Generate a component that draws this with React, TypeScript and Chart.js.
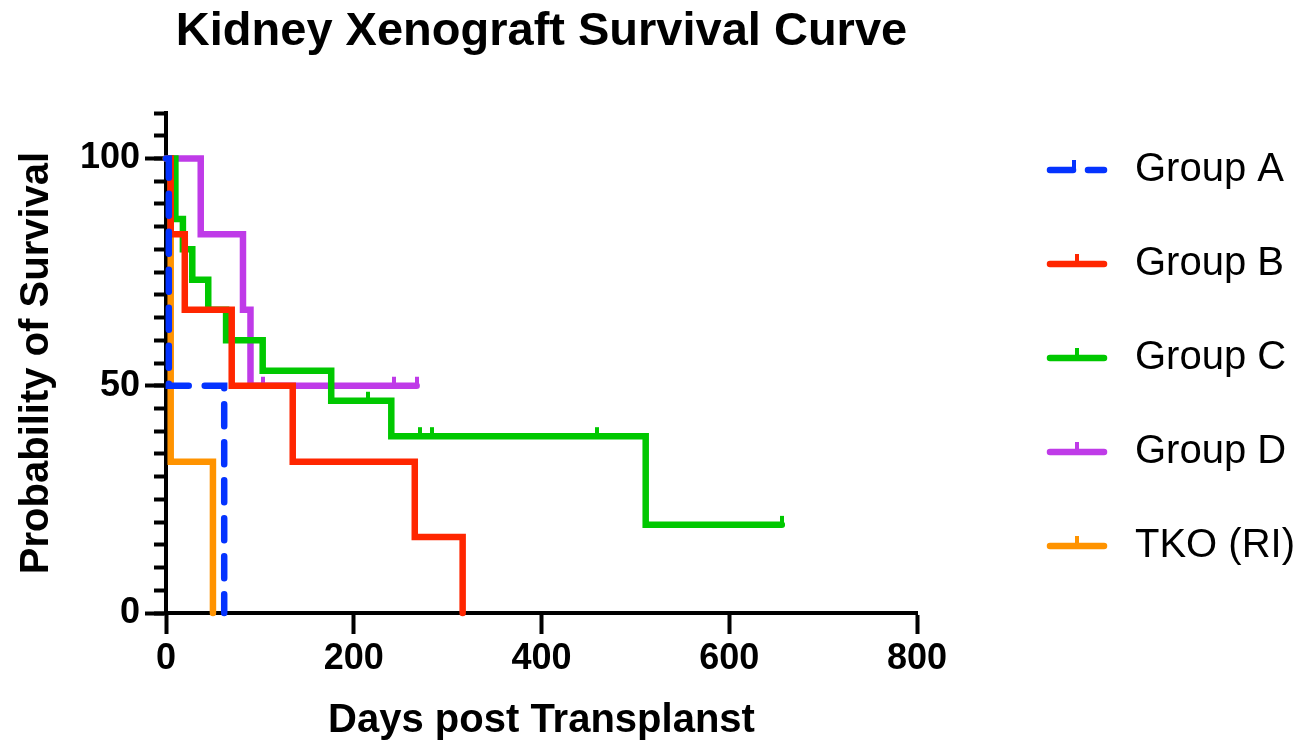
import React, { useEffect, useRef } from 'react';
import { Chart, registerables } from 'chart.js';

Chart.register(...registerables);

const FONT = "'Liberation Sans', Arial, Helvetica, sans-serif";

const groupNames = ['Group A', 'Group B', 'Group C', 'Group D', 'TKO (RI)'];
const groupColors = ['#0433FF', '#FF2600', '#00C800', '#BF3BE8', '#FF9300'];

// Kaplan-Meier step points: day, survival %, censored flag (1 = censor tick)
const groupADays = [0, 3, 62];
const groupASurvival = [100, 50, 0];
const groupACensored = [0, 0, 0];

const groupBDays = [0, 5, 20, 70, 135, 265, 316];
const groupBSurvival = [100, 83.3, 66.7, 50, 33.3, 16.7, 0];
const groupBCensored = [0, 0, 0, 0, 0, 0, 0];

const groupCDays = [0, 10, 18, 28, 45, 64, 103, 176, 215, 240, 271, 283, 459, 511, 656];
const groupCSurvival = [100, 86.7, 80, 73.3, 66.7, 60, 53.3, 46.7, 46.7, 38.9, 38.9, 38.9, 38.9, 19.4, 19.4];
const groupCCensored = [0, 0, 0, 0, 0, 0, 0, 0, 1, 0, 1, 1, 1, 0, 1];

const groupDDays = [0, 37, 82, 90, 103, 243, 267];
const groupDSurvival = [100, 83.3, 66.7, 50, 50, 50, 50];
const groupDCensored = [0, 0, 0, 0, 1, 1, 1];

const tkoDays = [0, 5, 50];
const tkoSurvival = [100, 33.3, 0];
const tkoCensored = [0, 0, 0];

const allDays = [groupADays, groupBDays, groupCDays, groupDDays, tkoDays];
const allSurvival = [groupASurvival, groupBSurvival, groupCSurvival, groupDSurvival, tkoSurvival];
const allCensored = [groupACensored, groupBCensored, groupCCensored, groupDCensored, tkoCensored];

const xTicks = [0, 200, 400, 600, 800];
const yTicks = [0, 50, 100];

function makeCensorImage(color: string) {
  const c = document.createElement('canvas');
  c.width = 4;
  c.height = 22;
  const g = c.getContext('2d')!;
  g.fillStyle = color;
  g.fillRect(0, 2, 4, 9);
  return c;
}

function makeLegendImage(color: string, dashed: boolean) {
  const c = document.createElement('canvas');
  c.width = 144;
  c.height = 24;
  const g = c.getContext('2d')!;
  g.strokeStyle = color;
  g.fillStyle = color;
  g.lineWidth = 6.5;
  g.lineCap = 'round';
  if (dashed) {
    g.beginPath();
    g.moveTo(79, 12);
    g.lineTo(102, 12);
    g.stroke();
    g.beginPath();
    g.moveTo(117, 12);
    g.lineTo(133, 12);
    g.stroke();
    g.fillRect(101, 2, 4, 10);
  } else {
    g.beginPath();
    g.moveTo(79, 12);
    g.lineTo(133, 12);
    g.stroke();
    g.fillRect(104, 2, 4, 10);
  }
  return c;
}

export default function App() {
  const ref = useRef<HTMLCanvasElement | null>(null);

  useEffect(() => {
    if (!ref.current) return;
    Chart.defaults.font.family = FONT;
    Chart.defaults.color = '#000';

    const legendImgs = groupColors.map((c, i) => makeLegendImage(c, i === 0));

    const datasets = groupNames.map((name, i) => {
      const censored = allCensored[i];
      return {
        label: name,
        data: allDays[i].map((d, k) => ({ x: d, y: allSurvival[i][k] })),
        stepped: true,
        borderColor: groupColors[i],
        backgroundColor: groupColors[i],
        borderWidth: 6.5,
        borderCapStyle: 'round' as const,
        borderJoinStyle: 'miter' as const,
        borderDash: i === 0 ? [22, 16] : [],
        fill: false,
        clip: false as const,
        pointStyle: makeCensorImage(groupColors[i]),
        pointRadius: (ctx: any) => (censored[ctx.dataIndex] ? 5 : 0),
        pointHoverRadius: 0,
        pointHitRadius: 0,
      };
    });

    const chart = new Chart(ref.current, {
      type: 'line',
      data: { datasets: datasets as any },
      options: {
        animation: false,
        responsive: true,
        maintainAspectRatio: false,
        events: [],
        layout: { padding: 0 },
        scales: {
          x: {
            type: 'linear',
            position: 'bottom',
            min: 0,
            max: 800,
            afterBuildTicks: (s: any) => {
              s.ticks = xTicks.map((v) => ({ value: v }));
            },
            ticks: {
              font: { size: 36, weight: 'bold' },
              color: '#000',
              padding: 3,
              maxRotation: 0,
            },
            grid: {
              drawOnChartArea: false,
              drawTicks: true,
              tickLength: 21,
              tickWidth: 4,
              tickColor: '#000',
            },
            border: { display: true, color: '#000', width: 4 },
            title: {
              display: true,
              text: 'Days post Transplanst',
              font: { size: 40, weight: 'bold' },
              color: '#000',
              padding: { top: 14, bottom: 4 },
            },
            afterFit: (s: any) => {
              s.height = 136;
            },
          },
          y: {
            type: 'linear',
            position: 'left',
            weight: 1,
            min: 0,
            max: 110,
            afterBuildTicks: (s: any) => {
              s.ticks = yTicks.map((v) => ({ value: v }));
            },
            ticks: {
              font: { size: 36, weight: 'bold' },
              color: '#000',
              padding: 5,
            },
            grid: {
              drawOnChartArea: false,
              drawTicks: true,
              tickLength: 21,
              tickWidth: 4,
              tickColor: '#000',
            },
            border: { display: true, color: '#000', width: 4 },
            title: {
              display: true,
              text: 'Probability of Survival',
              font: { size: 40, weight: 'bold' },
              color: '#000',
              padding: { top: 13, bottom: 14 },
            },
            afterFit: (s: any) => {
              s.width = 166;
            },
          },
          yMinor: {
            type: 'linear',
            position: 'left',
            weight: 0,
            min: 0,
            max: 110,
            ticks: { display: false, stepSize: 5 },
            grid: {
              drawOnChartArea: false,
              drawTicks: true,
              tickLength: 12,
              tickWidth: 4,
              tickColor: '#000',
            },
            border: { display: false },
            afterFit: (s: any) => {
              s.width = 0;
            },
          },
        },
        plugins: {
          tooltip: { enabled: false },
          title: {
            display: true,
            text: 'Kidney Xenograft Survival Curve',
            fullSize: false,
            font: { size: 47, weight: 'bold' },
            color: '#000',
            padding: { top: 4, bottom: 52.6 },
          },
          legend: {
            display: true,
            position: 'right',
            align: 'start',
            fullSize: true,
            maxWidth: 382,
            title: {
              display: true,
              text: ' ',
              font: { size: 1 },
              padding: { top: 94.8, bottom: 0 },
            },
            labels: {
              usePointStyle: true,
              pointStyleWidth: 144,
              padding: 54,
              color: '#000',
              font: { size: 40 },
              generateLabels: () =>
                groupNames.map((name, i) => ({
                  text: name,
                  pointStyle: legendImgs[i],
                  fillStyle: 'transparent',
                  strokeStyle: 'transparent',
                  lineWidth: 0,
                  hidden: false,
                  datasetIndex: i,
                  fontColor: '#000',
                })) as any,
            },
          },
        },
      },
    });

    return () => chart.destroy();
  }, []);

  return (
    <div style={{ position: 'fixed', left: 0, top: 0, width: 1299, height: 749, background: '#fff' }}>
      <canvas ref={ref} />
    </div>
  );
}
